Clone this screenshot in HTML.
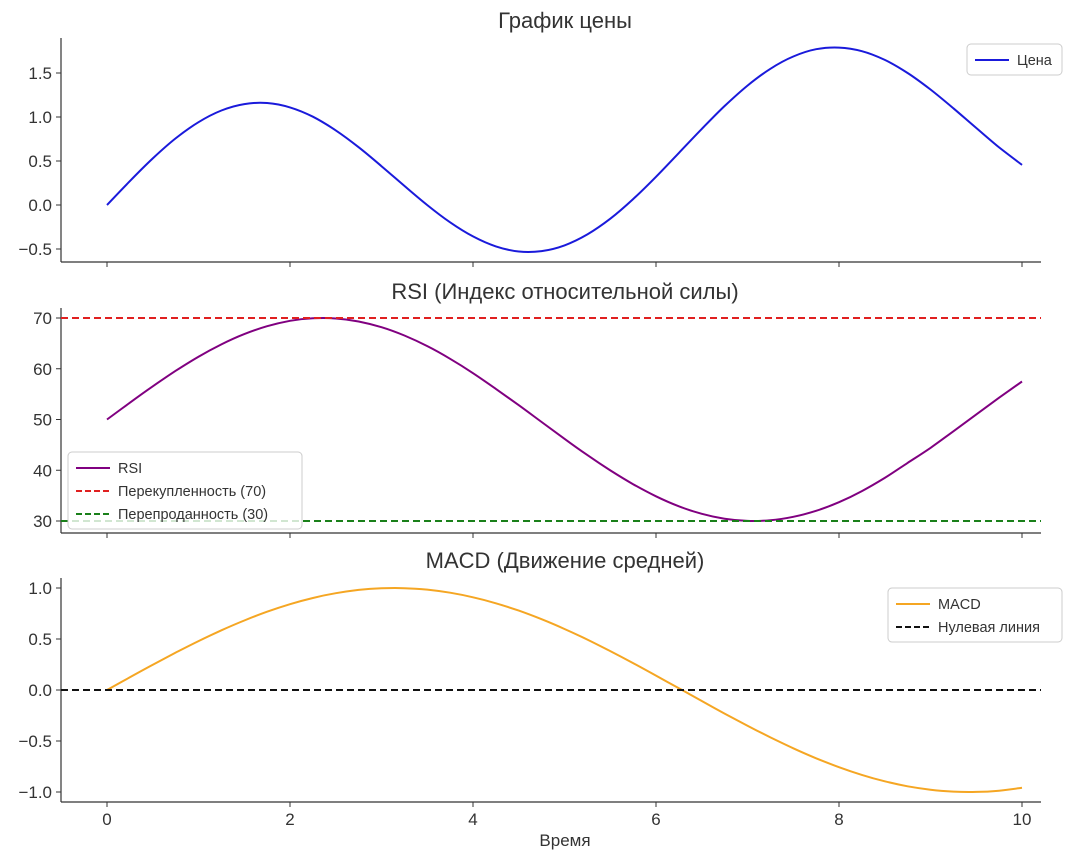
<!DOCTYPE html>
<html><head><meta charset="utf-8"><style>
body{margin:0;background:#fff;}
svg{display:block;font-family:"Liberation Sans","DejaVu Sans",sans-serif;}
</style></head><body>
<svg id="c" width="1080" height="856"></svg>
<script>
const xs=[0,0.25,0.5,0.75,1,1.25,1.5,1.75,2,2.25,2.5,2.75,3,3.25,3.5,3.75,4,4.25,4.5,4.75,5,5.25,5.5,5.75,6,6.25,6.5,6.75,7,7.25,7.5,7.75,8,8.25,8.5,8.75,9,9.25,9.5,9.75,10];
const priceValues=[0,0.272,0.529,0.757,0.941,1.074,1.147,1.159,1.109,1.003,0.848,0.657,0.441,0.217,-0.001,-0.197,-0.357,-0.470,-0.528,-0.524,-0.459,-0.334,-0.156,0.067,0.321,0.592,0.865,1.125,1.357,1.548,1.688,1.770,1.789,1.748,1.649,1.500,1.312,1.099,0.875,0.655,0.456];
const rsiValues=[50,53.32,56.54,59.59,62.37,64.80,66.83,68.39,69.44,69.95,69.91,69.31,68.19,66.55,64.47,61.97,59.13,56.02,52.82,49.50,46.19,42.98,39.98,37.25,34.86,32.89,31.41,30.45,30.02,30.15,30.82,32.01,33.71,35.89,38.49,41.44,44.41,47.68,51.00,54.30,57.48];
const macdValues=[0,0.1247,0.2474,0.3663,0.4794,0.5851,0.6816,0.7675,0.8415,0.9023,0.9490,0.9809,0.9975,0.9985,0.9840,0.9541,0.9093,0.8502,0.7781,0.6940,0.5985,0.4938,0.3817,0.2635,0.1411,0.0166,-0.1082,-0.2314,-0.3508,-0.4646,-0.5716,-0.6692,-0.7568,-0.8327,-0.8950,-0.9437,-0.9775,-0.9962,-0.9993,-0.9870,-0.9589];
const xTicks=[0,2,4,6,8,10];
const priceTicks=[-0.5,0,0.5,1,1.5];
const rsiTicks=[30,40,50,60,70];
const macdTicks=[-1,-0.5,0,0.5,1];
const overbought=70, oversold=30, zeroLine=0;

const svg=document.getElementById('c');
const NS='http://www.w3.org/2000/svg';
function el(t,a,txt){const e=document.createElementNS(NS,t);for(const k in a)e.setAttribute(k,a[k]);if(txt!==undefined)e.textContent=txt;svg.appendChild(e);return e;}
const X=v=>107+v*91.5;
const L=61,R=1041;
function panel(name,top,bot,yf,ticks,fmt,title,titleY,showXLabels){
  const t=el('text',{x:565,y:titleY,'font-size':22,'text-anchor':'middle',fill:'#333'},title);
  
  let s=el('line',{x1:L,y1:top,x2:L,y2:bot,stroke:'#333','stroke-width':1.2});
  
  s=el('line',{x1:L,y1:bot,x2:R,y2:bot,stroke:'#333','stroke-width':1.2});
  
  ticks.forEach(v=>{const y=yf(v);
    el('line',{x1:L-5,y1:y,x2:L,y2:y,stroke:'#333'});
    const tl=el('text',{x:L-9,y:y+6,'font-size':17,'text-anchor':'end',fill:'#333'},fmt(v));
    });
  xTicks.forEach(v=>{const x=X(v);
    el('line',{x1:x,y1:bot,x2:x,y2:bot+5,stroke:'#333'});
    if(showXLabels){const tl=el('text',{x:x,y:bot+23,'font-size':17,'text-anchor':'middle',fill:'#333'},String(v));
      }});
}
function line(vals,yf,color,name){
  const P=vals.map((v,i)=>[X(xs[i]),yf(v)]);
  let d='M'+P[0][0].toFixed(1)+','+P[0][1].toFixed(1);
  for(let i=0;i<P.length-1;i++){
    const p0=P[Math.max(i-1,0)],p1=P[i],p2=P[i+1],p3=P[Math.min(i+2,P.length-1)];
    const c1=[p1[0]+(p2[0]-p0[0])/6,p1[1]+(p2[1]-p0[1])/6];
    const c2=[p2[0]-(p3[0]-p1[0])/6,p2[1]-(p3[1]-p1[1])/6];
    d+='C'+c1.map(n=>n.toFixed(1)).join(',')+' '+c2.map(n=>n.toFixed(1)).join(',')+' '+p2.map(n=>n.toFixed(1)).join(',');
  }
  const p=el('path',{d:d,fill:'none',stroke:color,'stroke-width':2});
  
}
function hline(v,yf,color,name){
  const p=el('line',{x1:L,x2:R,y1:yf(v),y2:yf(v),stroke:color,'stroke-width':2,'stroke-dasharray':'7,4'});
  
}
function legend(name,x,y,w,items){
  const h=items.length*23+8;
  const b=el('rect',{x:x,y:y,width:w,height:h,rx:4,fill:'#fff','fill-opacity':0.8,stroke:'#ccc'});
  
  items.forEach((it,i)=>{const yy=y+16+i*23;
    el('line',{x1:x+8,x2:x+42,y1:yy,y2:yy,stroke:it[1],'stroke-width':2,'stroke-dasharray':it[2]?'6,3':'none'});
    const t=el('text',{x:x+50,y:yy+5,'font-size':14.5,fill:'#333'},it[0]);
    });
}
const fmt1=v=>v.toFixed(1).replace('-','−');
const y1=v=>205-v*88;
panel('price',38,262,y1,priceTicks,fmt1,'График цены',28,false);
line(priceValues,y1,'#1a1adb','price-line');
legend('price-legend',967,44,95,[['Цена','#1a1adb',false]]);
const y2=v=>521-(v-30)*5.075;
panel('rsi',308,533,y2,rsiTicks,v=>String(v),'RSI (Индекс относительной силы)',299,false);
line(rsiValues,y2,'#800080','rsi-line');
hline(overbought,y2,'#e02020','overbought-line');
hline(oversold,y2,'#1a801a','oversold-line');
legend('rsi-legend',68,452,234,[['RSI','#800080',false],['Перекупленность (70)','#e02020',true],['Перепроданность (30)','#1a801a',true]]);
const y3=v=>690-v*102;
panel('macd',578,802,y3,macdTicks,fmt1,'MACD (Движение средней)',568,true);
line(macdValues,y3,'#f5a623','macd-line');
hline(zeroLine,y3,'#111','zero-line');
legend('macd-legend',888,588,174,[['MACD','#f5a623',false],['Нулевая линия','#111',true]]);
const xl=el('text',{x:565,y:846,'font-size':17,'text-anchor':'middle',fill:'#333'},'Время');

</script>
</body></html>
